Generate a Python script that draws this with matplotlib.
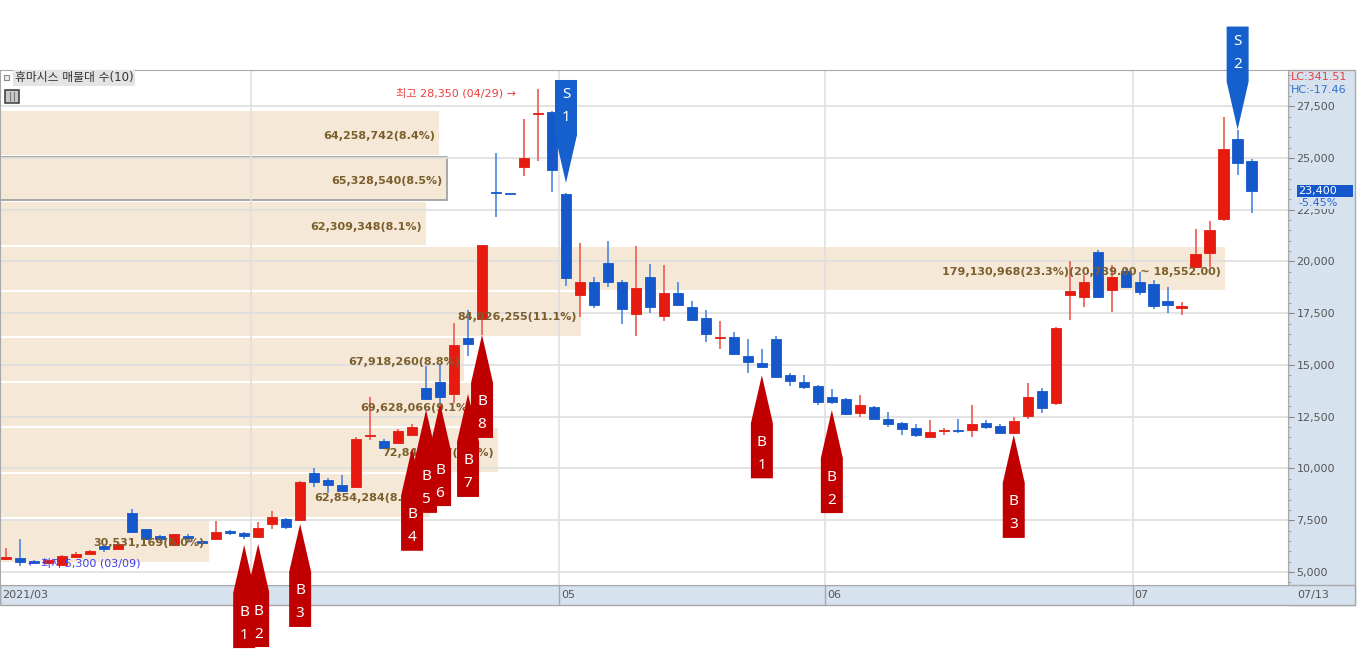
import numpy as np
import matplotlib
matplotlib.use("Agg")
import matplotlib.pyplot as plt
import matplotlib.transforms as mtransforms
from matplotlib.patches import Rectangle, Polygon
from matplotlib.ticker import MultipleLocator, FuncFormatter

plt.rcParams['font.family'] = ['DejaVu Sans', 'Noto Sans CJK KR']

# daily candles 2021/03/08 .. 2021/07/13
opens = [5640, 5700, 5550, 5450, 5350, 5710, 5860, 6260, 6110, 7870,
         7060, 6720, 6300, 6700, 6520, 6600, 6990, 6870, 6680, 7300,
         7550, 7510, 9800, 9420, 9180, 9090, 11550, 11330, 11250, 11620,
         13870, 14160, 13600, 16300, 17210, 23350, 23260, 24550, 27100, 27200,
         23250, 18380, 19020, 19910, 19020, 17460, 19260, 17370, 18460, 17810,
         17250, 16300, 16340, 15430, 15110, 16240, 14520, 14180, 13980, 13440,
         13360, 12690, 12960, 12380, 12190, 11940, 11520, 11810, 11840, 11860,
         12190, 12050, 11700, 12530, 13740, 13180, 18380, 18300, 20470, 18620,
         19550, 18990, 18910, 18100, 17770, 19730, 20410, 22030, 25900, 24850]
highs = [6170, 6600, 5600, 5600, 5800, 5980, 6050, 6300, 6400, 8030,
         7100, 6800, 6850, 6830, 6560, 7460, 7050, 6950, 7400, 7950,
         7600, 9380, 10020, 9540, 9680, 11500, 13460, 11400, 11900, 12150,
         14950, 15030, 17040, 17650, 20800, 25220, 23260, 26870, 28350, 27250,
         23300, 20900, 19230, 20990, 19100, 20750, 19880, 19830, 18990, 18100,
         17650, 17140, 16600, 16240, 15760, 16400, 14600, 14520, 14050, 13840,
         13400, 13550, 13000, 12710, 12250, 12130, 12340, 11950, 12390, 13070,
         12340, 12150, 12500, 14110, 13870, 16830, 20040, 19350, 20550, 19830,
         19700, 19470, 19100, 18750, 18060, 21590, 21940, 26980, 26370, 24950]
lows = [5580, 5300, 5400, 5400, 5330, 5700, 5850, 5970, 6100, 6900,
        6550, 6500, 6250, 6400, 6300, 6580, 6780, 6600, 6650, 7100,
        7100, 7500, 9100, 8820, 8900, 9050, 11380, 10950, 11200, 11600,
        13300, 13100, 13160, 15430, 16450, 22160, 23250, 24140, 24850, 23340,
        18830, 17300, 17740, 18780, 16980, 16400, 17530, 17100, 17850, 17100,
        16100, 15760, 15500, 14630, 14850, 14400, 13970, 13820, 13070, 13110,
        12580, 12500, 12380, 12020, 11620, 11500, 11500, 11640, 11730, 11500,
        11930, 11700, 11680, 12380, 12690, 13070, 17170, 17790, 18250, 17540,
        18700, 18380, 17690, 17500, 17410, 19700, 19730, 21950, 24170, 22350]
closes = [5660, 5500, 5450, 5560, 5780, 5860, 6030, 6110, 6350, 6930,
          6600, 6600, 6820, 6650, 6400, 6920, 6900, 6720, 7110, 7640,
          7160, 9360, 9360, 9200, 8930, 11410, 11600, 11010, 11830, 11990,
          13340, 13440, 15960, 16000, 20800, 23300, 23250, 24980, 27150, 24420,
          19180, 19020, 17900, 19020, 17700, 18730, 17810, 18460, 17900, 17170,
          16500, 16340, 15530, 15130, 14890, 14430, 14240, 13950, 13230, 13230,
          12630, 13050, 12390, 12150, 11910, 11620, 11750, 11840, 11800, 12130,
          12000, 11700, 12280, 13440, 12940, 16800, 18580, 18990, 18270, 19260,
          18750, 18510, 17850, 17900, 17810, 20360, 21540, 25420, 24750, 23400]

month_starts = [0, 18, 40, 59, 81]
month_labels = ['2021/03', '04', '05', '06', '07']
last_date = '07/13'

# volume profile (매물대), bottom band first
band_low = [5430, 7617, 9804, 11991, 14178, 16365, 18552, 20739, 22926, 25113]
band_step = 2187
band_vol = [30531169, 62854284, 72845117, 69628066, 67918260,
            84926255, 179130968, 62309348, 65328540, 64258742]
band_pct = [5.0, 8.2, 9.5, 9.1, 8.8, 11.1, 23.3, 8.1, 8.5, 8.4]

buy_idx = [17, 18, 21, 29, 30, 31, 33, 34, 54, 59, 72]
buy_no = ['1', '2', '3', '4', '5', '6', '7', '8', '1', '2', '3']
buy_tip = [6300, 6350, 7320, 11000, 12830, 13160, 13600, 16450, 14500, 12820, 11620]
sell_idx = [40, 88]
sell_no = ['1', '2']
sell_tip = [23790, 26370]

hi_idx, hi_price, hi_date = 38, 28350, '04/29'
lo_idx, lo_price, lo_date = 1, 5300, '03/09'
last_price, last_chg = 23400, -5.45
lc_val, hc_val = 341.51, -17.46

RED = '#E61A0E'
BLUE = '#1458CC'
RED_W = '#F05A50'
BLUE_W = '#4A86E0'
BAND = '#F5E8D6'
PANEL = '#D7E2EF'
EDGE = '#A8A8A8'
TXT = '#555555'

W, H = 1358, 662
fig = plt.figure(figsize=(W / 100, H / 100), dpi=100)


def fx(x):
    return x / W


def fy(y):
    return 1 - y / H


# side / bottom panels
fig.add_artist(Rectangle((fx(1288), fy(605)), fx(1355) - fx(1288), (605 - 70) / H,
                         transform=fig.transFigure, fc=PANEL, ec=EDGE, lw=1, zorder=-1))
fig.add_artist(Rectangle((fx(0), fy(605)), fx(1355), (605 - 585) / H,
                         transform=fig.transFigure, fc=PANEL, ec=EDGE, lw=1, zorder=-1))

rect = [0, fy(585), fx(1288), (585 - 70) / H]
vax = fig.add_axes(rect, zorder=0)
ax = fig.add_axes(rect, zorder=1)
ax.patch.set_alpha(0)

ylim = (4372, 29247)
xlim = (-0.45, 91.6)
for a in (ax, vax):
    a.set_ylim(*ylim)
ax.set_xlim(*xlim)

# volume profile bars
vax.set_xlim(0, max(band_vol) * 1288 / 1225)
mids = [b + band_step / 2 for b in band_low]
edges = ['#9A9A9A' if b <= last_price < b + band_step else 'none' for b in band_low]
vax.barh(mids, band_vol, height=band_step * 0.955, color=BAND, edgecolor=edges, lw=1.2)
vax.set_xticks([])
vax.set_yticks([])
for s in vax.spines.values():
    s.set_visible(False)

# grid
ax.set_axisbelow(True)
ax.yaxis.set_major_locator(MultipleLocator(2500))
ax.yaxis.set_minor_locator(MultipleLocator(500))
ax.set_yticks(range(5000, 27501, 2500))
ax.yaxis.grid(True, color='#E0E0E0', lw=1.3)
for m in month_starts[1:]:
    ax.axvline(m - 0.5, color='#E0E0E0', lw=1.2, zorder=1)

# candles
x = np.arange(len(opens))
o = np.array(opens)
c = np.array(closes)
up = c > o
ax.vlines(x, lows, highs, colors=np.where(up, RED_W, BLUE_W), lw=1.2, zorder=2)
ax.bar(x, np.maximum(np.abs(c - o), 70), 0.74, bottom=np.minimum(o, c),
       color=np.where(up, RED, BLUE), edgecolor=np.where(up, RED, BLUE), lw=0.6, zorder=3)

# band labels
for i, (b, v, p) in enumerate(zip(band_low, band_vol, band_pct)):
    s = f"{v:,}({p:.1f}%)"
    if v == max(band_vol):
        s += f"({b + band_step:,.2f} ~ {b:,.2f})"
    ax.annotate(s, xy=(v, b + band_step / 2), xycoords=vax.transData,
                xytext=(-4, -3), textcoords='offset pixels', ha='right', va='center',
                fontsize=8, fontweight='bold', color='#7B5E2D', zorder=4,
                annotation_clip=False)

# high / low notes
ax.annotate(f"최고 {hi_price:,} ({hi_date}) →", xy=(hi_idx, hi_price),
            xytext=(-22, -5), textcoords='offset pixels', ha='right', va='center',
            fontsize=8, color='#F03C3C', zorder=4)
ax.annotate(f"← 최저 {lo_price:,} ({lo_date})", xy=(lo_idx, lo_price),
            xytext=(8, 3), textcoords='offset pixels', ha='left', va='center',
            fontsize=8, color='#3C3CF0', zorder=4)


# signal markers
def signal(i, tip, letter, no, color, down):
    sg = 1 if down else -1
    verts = [(0, 0), (11, sg * 48), (11, sg * 103), (-11, sg * 103), (-11, sg * 48)]
    tr = (mtransforms.Affine2D().scale(0.01) + fig.dpi_scale_trans +
          mtransforms.ScaledTranslation(i, tip, ax.transData))
    ax.add_patch(Polygon(verts, closed=True, transform=tr, fc=color, ec='none',
                         clip_on=False, zorder=5))
    if down:
        offs = [(letter, 88), (no, 65)]
    else:
        offs = [(letter, -67), (no, -90)]
    for t, dy in offs:
        ax.annotate(t, xy=(i, tip), xytext=(0, dy), textcoords='offset pixels',
                    ha='center', va='center', fontsize=11, color='white',
                    family='Noto Sans', zorder=6, annotation_clip=False)


for i, n, t in zip(buy_idx, buy_no, buy_tip):
    signal(i, t, 'B', n, '#C00000', False)
for i, n, t in zip(sell_idx, sell_no, sell_tip):
    signal(i, t, 'S', n, '#1560CC', True)

# right axis
ax.yaxis.tick_right()
ax.yaxis.set_major_formatter(FuncFormatter(lambda v, p: f"{int(v):,}"))
ax.tick_params(axis='y', which='major', length=4, color='#888888', labelsize=8,
               labelcolor=TXT, pad=2)
ax.tick_params(axis='y', which='minor', length=2, color='#999999')
ax.set_xticks([])
for s in ax.spines.values():
    s.set_color(EDGE)

# current price tag
bt = mtransforms.blended_transform_factory(ax.transAxes, ax.transData)
ax.add_patch(Rectangle((1 + 9 / 1288, last_price - 290), 56 / 1288, 580, transform=bt,
                       fc=BLUE, ec='none', clip_on=False, zorder=6))
ax.text(1 + 10 / 1288, last_price, f"{last_price:,}", transform=bt, ha='left',
        va='center', fontsize=8, color='white', zorder=7)
ax.text(1 + 10 / 1288, last_price - 600, f"{last_chg:.2f}%", transform=bt, ha='left',
        va='center', fontsize=8, color='#2A66D8', zorder=7,
        bbox=dict(boxstyle='square,pad=0.05', fc=PANEL, ec='none'))
ax.text(1 + 3 / 1288, 1 - 7 / 515, f"LC:{lc_val:.2f}", transform=ax.transAxes,
        ha='left', va='center', fontsize=8, color='#E84040')
ax.text(1 + 3 / 1288, 1 - 20 / 515, f"HC:{hc_val:.2f}", transform=ax.transAxes,
        ha='left', va='center', fontsize=8, color='#3070D0')

# bottom date axis
bx = mtransforms.blended_transform_factory(ax.transData, ax.transAxes)
for m, lab in zip(month_starts, month_labels):
    xm = max(m - 0.5, xlim[0])
    ax.vlines(xm, -20 / 515, 0, transform=bx, color=EDGE, lw=1, clip_on=False, zorder=0.5)
    ax.annotate(lab, xy=(xm, -10 / 515), xycoords=bx, xytext=(2, 0),
                textcoords='offset pixels', ha='left', va='center', fontsize=8,
                color=TXT, zorder=0.5, annotation_clip=False)
fig.text(fx(1297), fy(595), last_date, ha='left', va='center', fontsize=8, color=TXT)

# indicator title box
fig.add_artist(Rectangle((fx(4), fy(80)), 5 / W, 5 / H, transform=fig.transFigure,
                         fc='#EEEEEE', ec='#888888', lw=0.8))
fig.text(fx(15), fy(78), "휴마시스 매물대 수(10)", ha='left', va='center', fontsize=8.5,
         color='#333333', bbox=dict(boxstyle='square,pad=0.15', fc='#E4E4E4', ec='none'))
fig.add_artist(Rectangle((fx(5), fy(103)), 14 / W, 13 / H, transform=fig.transFigure,
                         fc='#C8C8C8', ec='#444444', lw=1.2))
for k in (1, 2):
    fig.add_artist(plt.Line2D([fx(5 + k * 14 / 3)] * 2, [fy(103), fy(92)],
                              transform=fig.transFigure, color='#777777', lw=0.7))

fig.savefig('out.png', dpi=100)
